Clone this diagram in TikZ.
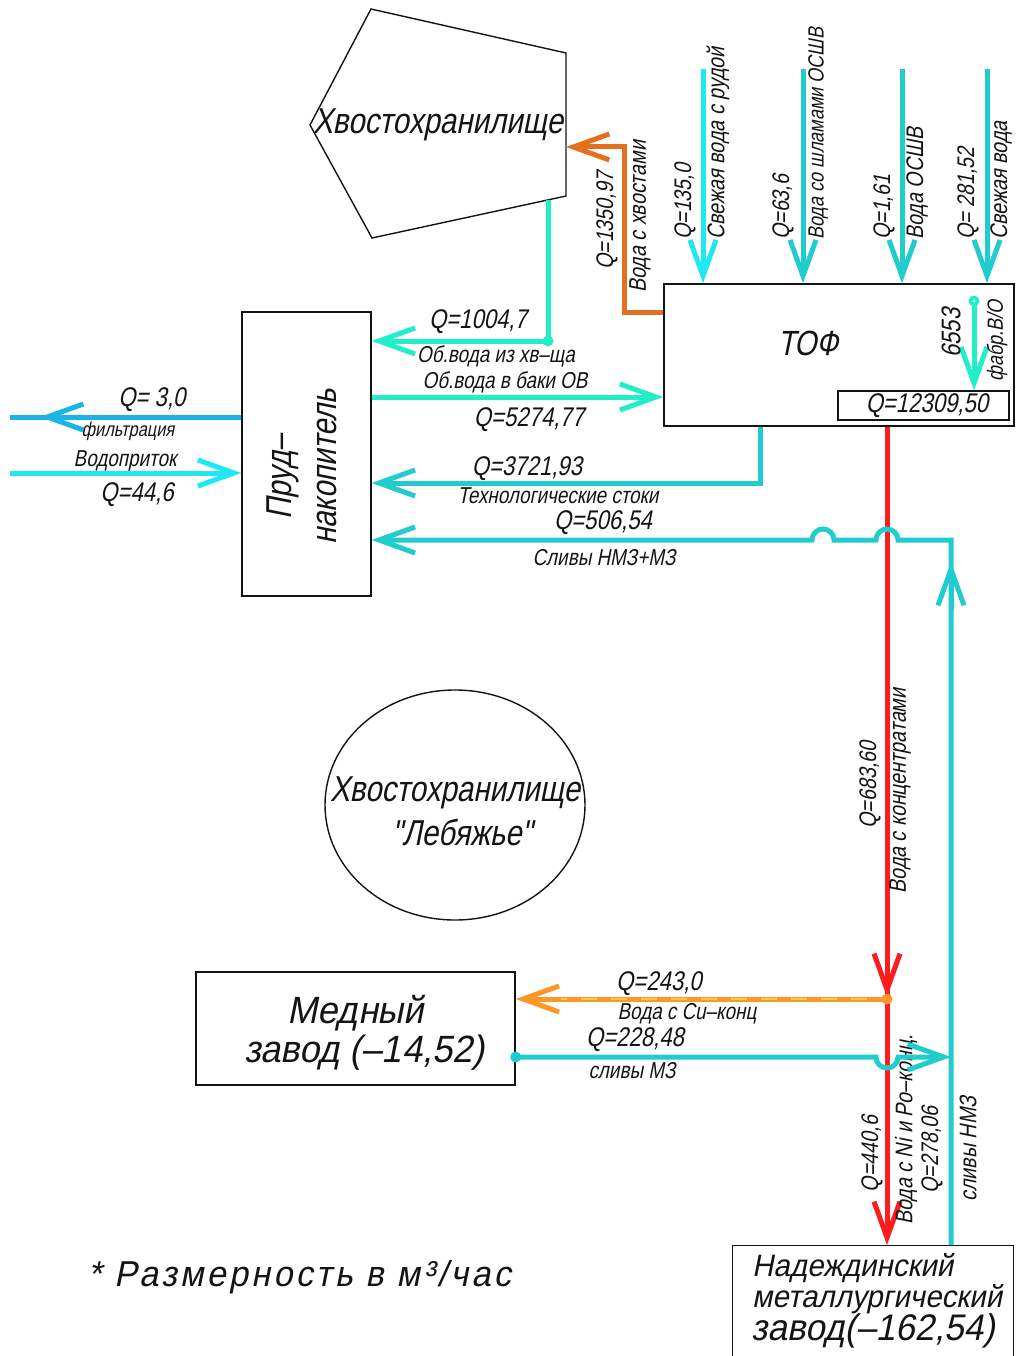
\documentclass[tikz,border=0pt]{standalone}
\usepackage{fontspec}
\newfontfamily\gost[FakeSlant=0.2,FakeStretch=0.82]{Liberation Sans}
\newfontfamily\gostW[FakeSlant=0.2,FakeStretch=0.95]{Liberation Sans}
\newfontfamily\gostwide[FakeSlant=0.2,FakeStretch=0.95,LetterSpace=9]{Liberation Sans}
\usetikzlibrary{arrows.meta,shapes.geometric,calc}
\definecolor{cyA}{RGB}{30,232,242}
\definecolor{tlB}{RGB}{32,204,206}
\definecolor{aqC}{RGB}{34,238,200}
\definecolor{skD}{RGB}{26,180,230}
\definecolor{orE}{RGB}{226,112,30}
\definecolor{orF}{RGB}{255,150,40}
\definecolor{rdG}{RGB}{255,28,28}
\definecolor{ink}{RGB}{20,20,20}
\begin{document}
\begin{tikzpicture}[x=1pt,y=1pt,
  bx/.style={draw=ink,line width=1.4pt,inner sep=0pt},
  fl/.style={line width=5pt},
  tip/.style={-{Straight Barb[length=36pt,width=26pt]}},
  ql/.style={font=\gost\fontsize{27}{30}\selectfont,inner sep=0pt,text=ink},
  tl/.style={font=\gost\fontsize{23}{26}\selectfont,inner sep=0pt,text=ink},
  rl/.style={font=\gost\fontsize{24}{26}\selectfont,inner sep=0pt,rotate=90,anchor=west,text=ink},
  big/.style={font=\gost\fontsize{36}{33}\selectfont,inner sep=0pt,text=ink},
  medf/.style={font=\gostW\fontsize{38}{40}\selectfont,inner sep=0pt,text=ink},
  nmzf/.style={font=\gostW\fontsize{31}{33}\selectfont,inner sep=0pt,text=ink,anchor=west}
]
\useasboundingbox (0,0) rectangle (1017,-1356);
\fill[white] (0,0) rectangle (1017,-1356);

% ---------- pentagon (tailings) ----------
\coordinate (pA) at (371,-9);
\coordinate (pB) at (566,-53);
\coordinate (pC) at (566,-196);
\coordinate (pD) at (372,-238);
\coordinate (pE) at (310,-125);
\draw[ink,line width=1.4pt] (pA)--(pB)--(pC)--(pD)--(pE)--cycle;
\node[big] (tail) at (438,-125) {Хвостохранилище};

% ---------- boxes ----------
\node[bx,minimum width=350pt,minimum height=142pt] (tof) at (839,-355) {};
\node[font=\gost\fontsize{35}{35}\selectfont,inner sep=0pt,text=ink] (toft) at (808,-343) {ТОФ};
\node[bx,minimum width=171pt,minimum height=29pt] (qbox) at (923.5,-405.5) {};
\node[ql] (qtof) at (927,-406) {Q=12309,50};

\node[bx,minimum width=129pt,minimum height=284pt] (pond) at (306.5,-454) {};
\node[big,rotate=90,anchor=west] (pt1) at (283,-520) {Пруд–};
\node[big,rotate=90,anchor=west] (pt2) at (327,-545) {накопитель};

\node[bx,minimum width=319pt,minimum height=113pt] (med) at (355.5,-1028.5) {};
\node[medf,anchor=west] (med1) at (287,-1013) {Медный};
\node[medf,anchor=west] (med2) at (244,-1053) {завод (–14,52)};

\node[bx,minimum width=281pt,minimum height=130pt,anchor=north west] (nmz) at (732,-1245) {};
\node[nmzf] (nmz1) at (752,-1268) {Надеждинский};
\node[nmzf] (nmz2) at (752,-1299) {металлургический};
\node[nmzf,font=\gostW\fontsize{37}{37}\selectfont] (nmz3) at (751,-1331) {завод(–162,54)};

\node[draw=ink,line width=1.4pt,ellipse,minimum width=260pt,minimum height=230pt] (lake) at (455,-805) {};
\node[big] (lk1) at (455,-793) {Хвостохранилище};
\node[big] (lk2) at (462,-832) {"Лебяжье"};

\node[font=\gostwide\fontsize{36}{36}\selectfont,inner sep=0pt,text=ink,anchor=west] (note) at (88,-1277) {* Размерность в м³/час};

% ---------- top inputs ----------
\coordinate (s1) at (703,-69);
\coordinate (s2) at (803,-69);
\coordinate (s3) at (902,-69);
\coordinate (s4) at (987,-69);
\draw[fl,cyA,tip] (s1) -- (s1 |- tof.north);
\draw[fl,tlB,tip] (s2) -- (s2 |- tof.north);
\draw[fl,tlB,tip] (s3) -- (s3 |- tof.north);
\draw[fl,tlB,tip] (s4) -- (s4 |- tof.north);
\node[rl] (ls1a) at (685,-240) {Q=135,0};
\node[rl] (ls1b) at (718,-240) {Свежая вода с рудой};
\node[rl] (ls2a) at (783,-240) {Q=63,6};
\node[rl,font=\gost\fontsize{22}{24}\selectfont] (ls2b) at (818,-240) {Вода со шламами ОСШВ};
\node[rl] (ls3a) at (884,-240) {Q=1,61};
\node[rl] (ls3b) at (917,-240) {Вода ОСШВ};
\node[rl] (ls4a) at (968,-240) {Q= 281,52};
\node[rl] (ls4b) at (1001,-240) {Свежая вода};

% ---------- tailings from TOF ----------
\coordinate (o1) at (624,-312);
\coordinate (o2) at (624,-147);
\draw[fl,orE,tip] (tof.west |- o1) -- (o1) -- (o2) -- (pB |- o2);
\node[rl] (lo1) at (607,-270) {Q=1350,97};
\node[rl] (lo2) at (640,-293) {Вода с хвостами};

% ---------- inner 6553 ----------
\coordinate (d6) at (974,-301);
\draw[fl,aqC,tip] (d6) -- (d6 |- qbox.north);
\fill[aqC] (d6) circle (5.5pt);
\fill[white] (d6) circle (1.5pt);
\node[rl,anchor=center,font=\gost\fontsize{27}{27}\selectfont] (l65) at (951,-333) {6553};
\node[rl,anchor=center,font=\gost\fontsize{22}{22}\selectfont] (lfab) at (997,-341) {фабр.В/О};

% ---------- return water from tailings ----------
\coordinate (r0) at (548,-200);
\coordinate (r1) at (548,-341);
\draw[fl,aqC,tip] (r0) -- (r1) -- (pond.east |- r1);
\fill[aqC] (r1) circle (5.5pt);
\node[ql] (lr1) at (478,-322) {Q=1004,7};
\node[tl] (lr2) at (496,-356) {Об.вода из хв–ща};

% ---------- to tanks ----------
\coordinate (b1) at (371,-397);
\draw[fl,aqC,tip] (pond.east |- b1) -- (tof.west |- b1);
\node[tl] (lb1) at (505,-382) {Об.вода в баки ОВ};
\node[ql] (lb2) at (529,-420) {Q=5274,77};

% ---------- technological drains ----------
\coordinate (c1) at (760,-483);
\draw[fl,tlB,tip] (tof.south -| c1) -- (c1) -- (pond.east |- c1);
\node[ql] (lc1) at (527,-469) {Q=3721,93};
\node[tl] (lc2) at (558,-496) {Технологические стоки};

% ---------- red concentrate line ----------
\coordinate (rd1) at (887,-997);
\coordinate (rd0) at (887,-950);
\draw[fl,rdG,tip] (tof.south -| rd1) -- (nmz.north -| rd1);
\draw[fl,rdG,tip] (rd0) -- (rd1);
\node[rl,anchor=center] (lrd1) at (870,-785) {Q=683,60};
\node[rl,anchor=center] (lrd2) at (900,-791) {Вода с концентратами};
\node[rl,anchor=center] (lrd3) at (872,-1154) {Q=440,6};
\node[rl] (lrd4) at (906,-1225) {Вода с Ni и Po–конц.};

% ---------- NMZ + MZ drains ----------
\coordinate (v1) at (951,-540);
\coordinate (vt) at (951,-562);
\coordinate (vt0) at (951,-610);
\draw[fl,tlB,tip] (nmz.north -| v1) -- (v1) -- (898,-540) arc (0:180:11) -- (834,-540) arc (0:180:11) -- (pond.east |- v1);
\draw[fl,tlB,tip] (vt0) -- (vt);
\node[ql] (lv1) at (603,-523) {Q=506,54};
\node[tl] (lv2) at (604,-558) {Сливы НМЗ+МЗ};
\node[rl,anchor=center] (lv3) at (932,-1150) {Q=278,06};
\node[rl,anchor=center] (lv4) at (968,-1149) {сливы НМЗ};

% ---------- copper plant ----------
\coordinate (cu) at (887,-999);
\draw[fl,orF,tip] (cu) -- (med.east |- cu);
\draw[orF!60!yellow!80!white,line width=1.2pt,dash pattern=on 16pt off 14pt] ($(cu)+(-20,0)$) -- ($(med.east |- cu)+(45,0)$);
\fill[orF] (cu) circle (5.5pt);
\node[ql] (lcu1) at (659,-984) {Q=243,0};
\node[tl] (lcu2) at (687,-1014) {Вода с Cu–конц};

\coordinate (mz) at (951,-1057);
\draw[fl,tlB,tip] (med.east |- mz) -- (876,-1057) arc (180:360:11) -- (mz);
\fill[tlB] (med.east |- mz) circle (5.5pt);
\node[ql] (lm1) at (635,-1040) {Q=228,48};
\node[tl] (lm2) at (632,-1071) {сливы МЗ};

% ---------- pond: filtration / inflow ----------
\coordinate (f2) at (90,-417);
\coordinate (f1) at (40,-417);
\coordinate (f0) at (10,-417);
\draw[fl,skD] (pond.west |- f1) -- (f0);
\draw[fl,skD,tip] (f2) -- (f1);
\node[ql] (lf1) at (152,-400) {Q= 3,0};
\node[tl,font=\gost\fontsize{20}{20}\selectfont] (lf2) at (128,-431) {фильтрация};
\coordinate (w0) at (10,-473);
\draw[fl,cyA,tip] (w0) -- (pond.west |- w0);
\node[tl] (lw1) at (125,-461) {Водоприток};
\node[ql] (lw2) at (137,-495) {Q=44,6};
\end{tikzpicture}
\end{document}
